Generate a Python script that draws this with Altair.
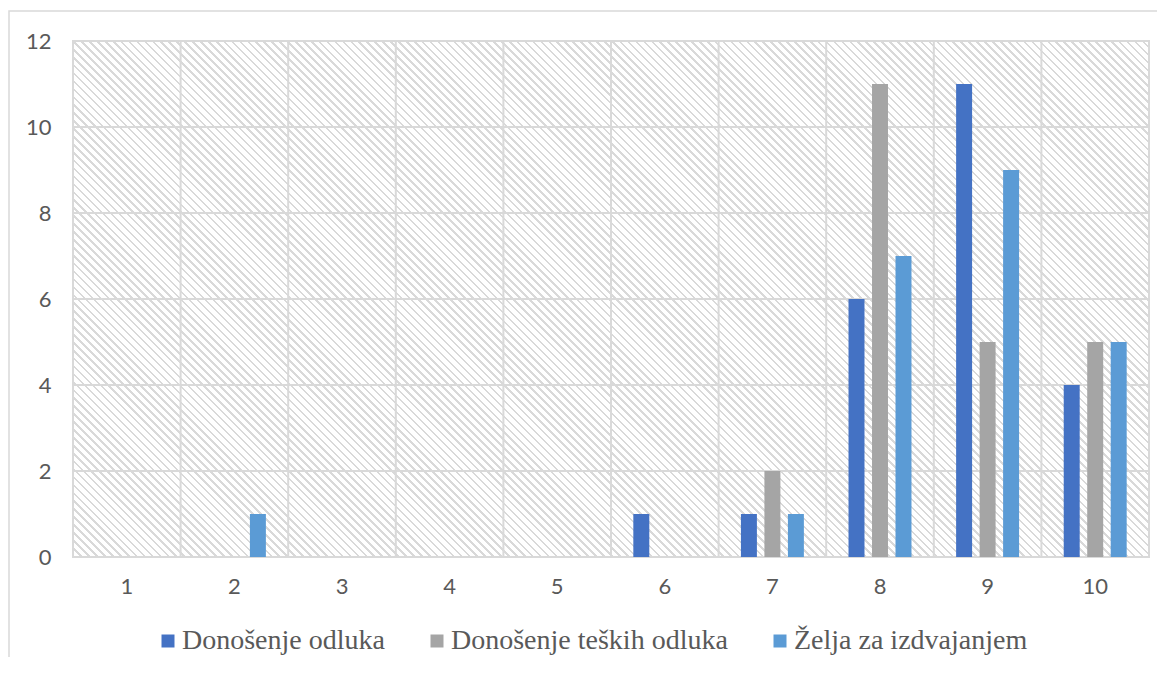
import altair as alt
import pandas as pd

# ---- data ----
categories = [1, 2, 3, 4, 5, 6, 7, 8, 9, 10]
series_names = ["Donošenje odluka", "Donošenje teških odluka", "Želja za izdvajanjem"]
donosenje_odluka = [0, 0, 0, 0, 0, 1, 1, 6, 11, 4]
donosenje_teskih = [0, 0, 0, 0, 0, 0, 2, 11, 5, 5]
zelja_izdvajanje = [0, 1, 0, 0, 0, 0, 1, 7, 9, 5]
y_ticks = [0, 2, 4, 6, 8, 10, 12]
colors = ["#4472C4", "#A5A5A5", "#5B9BD5"]

W, H = 1076, 516

rows = []
for name, vals in zip(series_names, [donosenje_odluka, donosenje_teskih, zelja_izdvajanje]):
    for c, v in zip(categories, vals):
        rows.append({"Kategorija": c, "Serija": name, "Vrijednost": v})
df = pd.DataFrame(rows)

# ---- hatched plot background as a striped linear gradient (45 deg lines) ----
kx = (W + H) / (W * W + H * H)
p1 = (0.0, 1.0)
p2 = (p1[0] + kx * W, p1[1] - kx * H)
n_stripes = int(round(((W + H) / 2 ** 0.5) / 5.6))
duty = 0.33
line_col, bg_col = "#d9d9d9", "#ffffff"
stops = []
for i in range(n_stripes):
    a = i / n_stripes
    b = (i + duty) / n_stripes
    c = (i + 1) / n_stripes
    stops += [
        alt.GradientStop(offset=a, color=line_col),
        alt.GradientStop(offset=b, color=line_col),
        alt.GradientStop(offset=b, color=bg_col),
        alt.GradientStop(offset=c, color=bg_col),
    ]
hatch = alt.LinearGradient(gradient="linear", x1=p1[0], y1=p1[1], x2=p2[0], y2=p2[1], stops=stops)

one = pd.DataFrame({"k": [0]})

x_scale = alt.Scale(domain=categories, paddingInner=0, paddingOuter=0)
y_scale = alt.Scale(domain=[0, 12], nice=False)

x_axis = alt.Axis(
    title=None, labelAngle=0, domain=False, ticks=False, tickSize=0, grid=False,
    labelFont="Lato", labelFontSize=22, labelColor="#595959",
    labelBaseline="middle", labelPadding=29,
)
y_axis = alt.Axis(
    title=None, values=y_ticks, domain=False, ticks=False, tickSize=0, grid=False,
    labelFont="Lato", labelFontSize=22, labelColor="#595959", labelPadding=22,
)

frame = alt.Chart(one).mark_rect(fillOpacity=0, stroke="#d9d9d9", strokeWidth=1.5).encode(
    x=alt.value(-64), x2=alt.value(W + 30), y=alt.value(-30), y2=alt.value(H + 140)
)

background = alt.Chart(one).mark_rect(color=hatch, stroke="#d9d9d9", strokeWidth=2).encode(
    x=alt.value(0), x2=alt.value(W), y=alt.value(0), y2=alt.value(H)
)

hgrid = alt.Chart(pd.DataFrame({"Vrijednost": y_ticks})).mark_rule(color="#d9d9d9", strokeWidth=2).encode(
    y=alt.Y("Vrijednost:Q", scale=y_scale, axis=y_axis)
)

vgrid = alt.Chart(pd.DataFrame({"Kategorija": categories})).mark_rule(color="#d9d9d9", strokeWidth=2).encode(
    x=alt.X("Kategorija:O", scale=x_scale, sort=categories, bandPosition=0, axis=x_axis)
)

bars = alt.Chart(df).mark_bar().encode(
    x=alt.X("Kategorija:O", scale=x_scale, sort=categories, axis=x_axis),
    xOffset=alt.XOffset(
        "Serija:N", sort=series_names,
        scale=alt.Scale(domain=series_names, paddingInner=0.32, paddingOuter=0.95),
    ),
    y=alt.Y("Vrijednost:Q", scale=y_scale, axis=y_axis),
    color=alt.Color(
        "Serija:N",
        sort=series_names,
        scale=alt.Scale(domain=series_names, range=colors),
        legend=alt.Legend(
            title=None, orient="none", legendX=81, legendY=586, direction="horizontal",
            columns=3, symbolType="square", symbolSize=169, symbolStrokeWidth=0,
            labelFont="Liberation Serif", labelFontSize=28,
            labelColor="#595959", labelOffset=0, columnPadding=38, labelLimit=0, padding=0,
        ),
    ),
)

chart = alt.layer(frame, background, hgrid, vgrid, bars).properties(
    width=W,
    height=H,
    autosize=alt.AutoSizeParams(type="none"),
    padding={"left": 65, "top": 33, "right": 8, "bottom": 100},
).configure_view(stroke=None).configure(background="#ffffff")

chart.save("out.html", embed_options={"renderer": "svg", "actions": False})
